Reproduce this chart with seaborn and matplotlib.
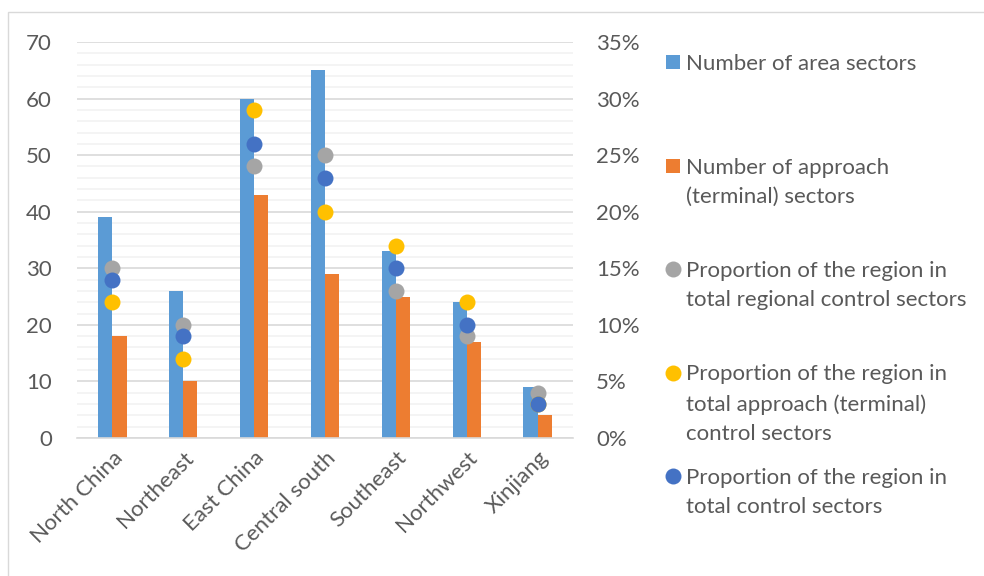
import numpy as np
import pandas as pd
import matplotlib
matplotlib.use("Agg")
import matplotlib.pyplot as plt
from matplotlib.lines import Line2D
from matplotlib.patches import Rectangle
from matplotlib.ticker import MultipleLocator, FuncFormatter
import seaborn as sns

# Sector counts per region
regions = ["North China", "Northeast", "East China", "Central south",
           "Southeast", "Northwest", "Xinjiang"]
area_sectors = [39, 26, 60, 65, 33, 24, 9]
approach_sectors = [18, 10, 43, 29, 25, 17, 4]

# Shares of each region (percent)
share_regional = [15, 10, 24, 25, 13, 9, 4]
share_approach = [12, 7, 29, 20, 17, 12, 3]
share_total = [14, 9, 26, 23, 15, 10, 3]

series_names = [
    "Number of area sectors",
    "Number of approach\n(terminal) sectors",
    "Proportion of the region in\ntotal regional control sectors",
    "Proportion of the region in\ntotal approach (terminal)\ncontrol sectors",
    "Proportion of the region in\ntotal control sectors",
]

C_AREA = "#5B9BD5"
C_APPR = "#ED7D31"
C_GRAY = "#A5A5A5"
C_YELL = "#FFC000"
C_DBLU = "#4472C4"
TXT = "#595959"

sns.set_style("white")
plt.rcParams["font.family"] = ["Lato", "DejaVu Sans"]
FS = 16

fig = plt.figure(figsize=(9.84, 5.76), dpi=100)
ax = fig.add_axes([77 / 984, 1 - 438 / 576, 496 / 984, 396 / 576])

bars = pd.DataFrame({
    "region": regions * 2,
    "count": area_sectors + approach_sectors,
    "kind": ["area"] * len(regions) + ["approach"] * len(regions),
})
sns.barplot(data=bars, x="region", y="count", hue="kind",
            palette=[C_AREA, C_APPR], width=0.4, gap=0,
            saturation=1, legend=False, ax=ax, zorder=2)
for p in ax.patches:
    p.set_edgecolor("none")

ax.set_ylim(0, 70)
ax.set_xlim(-0.5, len(regions) - 0.5)
ax.yaxis.set_major_locator(MultipleLocator(10))
ax.yaxis.set_minor_locator(MultipleLocator(2))
ax.grid(axis="y", which="major", color="#D9D9D9", lw=1.2, zorder=0)
ax.grid(axis="y", which="minor", color="#F2F2F2", lw=1.2, zorder=0)
ax.set_axisbelow(True)
for s in ["left", "right", "top"]:
    ax.spines[s].set_visible(False)
ax.spines["bottom"].set_color("#D9D9D9")
ax.spines["bottom"].set_linewidth(1.2)
ax.tick_params(axis="both", which="both", length=0, labelsize=FS,
               labelcolor=TXT)
ax.tick_params(axis="y", pad=18)
ax.set_xlabel("")
ax.set_ylabel("")
ax.set_xticks(range(len(regions)))
ax.set_xticklabels(regions, rotation=45, ha="right",
                   rotation_mode="anchor", fontsize=FS, color=TXT)
ax.tick_params(axis="x", pad=7)

# Percentage shares on the secondary axis
ax2 = ax.twinx()
for vals, col in [(share_regional, C_GRAY), (share_approach, C_YELL),
                  (share_total, C_DBLU)]:
    sns.pointplot(x=regions, y=[v / 100 for v in vals], color=col,
                  linestyle="none", marker="o", markersize=11.5,
                  markeredgewidth=0, errorbar=None, ax=ax2, zorder=3)
ax2.set_ylim(0, 0.35)
ax2.set_xlim(-0.5, len(regions) - 0.5)
ax2.yaxis.set_major_locator(MultipleLocator(0.05))
ax2.yaxis.set_major_formatter(FuncFormatter(lambda v, _: f"{v * 100:.0f}%"))
ax2.tick_params(axis="y", length=0, labelsize=FS, labelcolor=TXT, pad=16.5)
ax2.set_ylabel("")
ax2.grid(False)
for s in ax2.spines.values():
    s.set_visible(False)

# Legend entries
handles = [
    dict(marker="s", color=C_AREA, ms=10),
    dict(marker="s", color=C_APPR, ms=10),
    dict(marker="o", color=C_GRAY, ms=11.5),
    dict(marker="o", color=C_YELL, ms=11.5),
    dict(marker="o", color=C_DBLU, ms=11.5),
]
W, H = 984, 576
for i, (h, name) in enumerate(zip(handles, series_names)):
    y = 62 + 103.5 * i
    fig.add_artist(Line2D([673 / W], [1 - y / H], transform=fig.transFigure,
                          marker=h["marker"], color=h["color"],
                          markersize=h["ms"], markeredgewidth=0,
                          linestyle="none"))
    fig.text(686 / W, 1 - (y - 8) / H, name, ha="left", va="top",
             fontsize=FS, color=TXT, linespacing=1.58)

# Chart frame
fig.add_artist(Rectangle((8 / W, -0.05), 1.1, 1 - 12 / H + 0.05,
                         transform=fig.transFigure, fill=False,
                         edgecolor="#D9D9D9", lw=1))

fig.savefig("out.png", dpi=100, facecolor="white")
